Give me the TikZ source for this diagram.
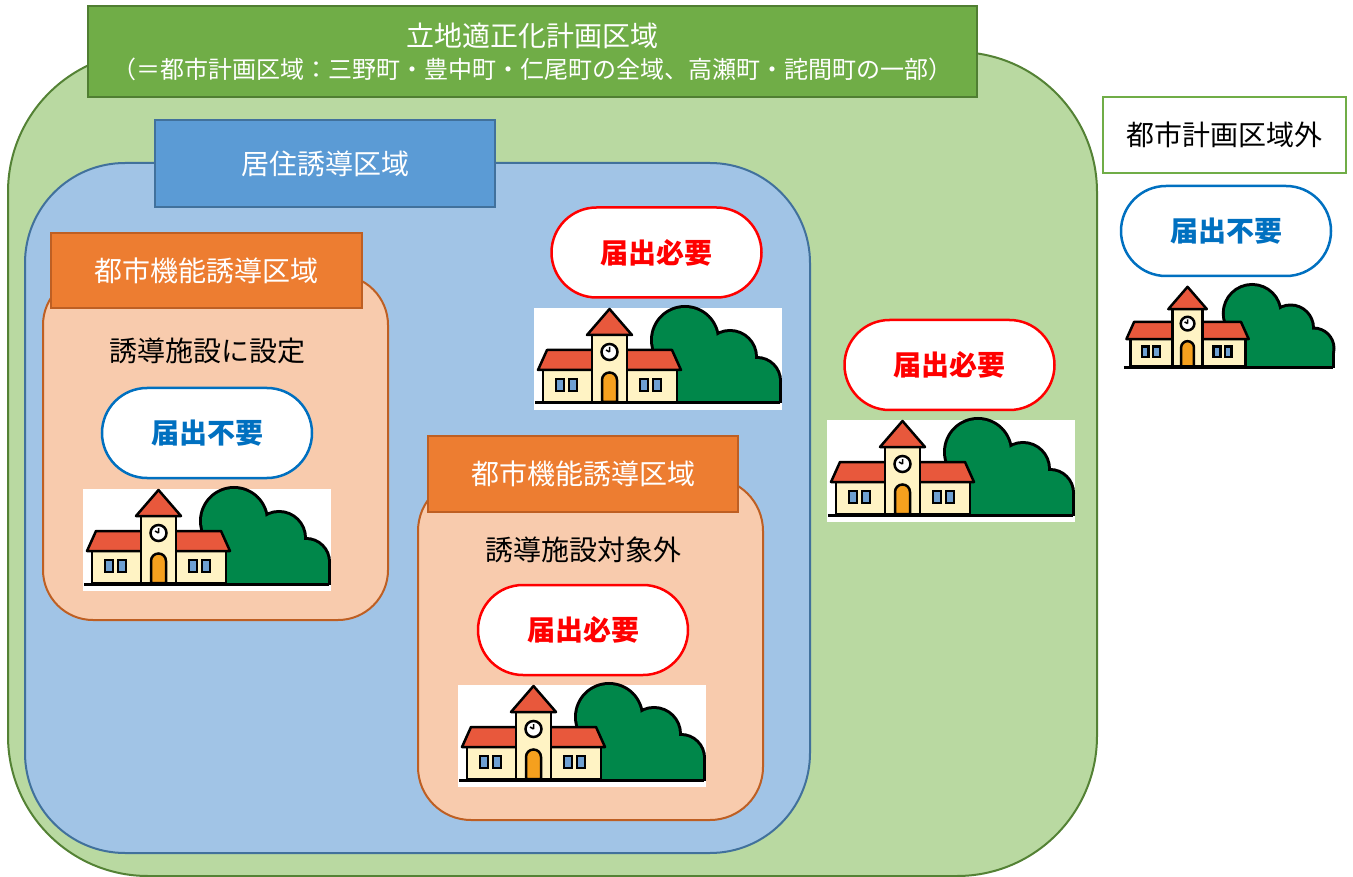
\documentclass[tikz,border=0pt]{standalone}
\usepackage{fontspec}
\setmainfont{Noto Sans CJK JP}
\definecolor{cityfill}{RGB}{185,217,161}
\definecolor{cityline}{RGB}{84,130,53}
\definecolor{titlefill}{RGB}{112,173,71}
\definecolor{titleline}{RGB}{80,126,50}
\definecolor{residfill}{RGB}{161,196,230}
\definecolor{residline}{RGB}{65,113,156}
\definecolor{residlbl}{RGB}{91,155,213}
\definecolor{cffill}{RGB}{248,203,173}
\definecolor{cfline}{RGB}{190,95,35}
\definecolor{cflbl}{RGB}{237,125,49}
\definecolor{okblue}{RGB}{0,112,192}
\definecolor{needred}{RGB}{255,0,0}
\definecolor{roofred}{RGB}{232,88,60}
\definecolor{wallcream}{RGB}{255,243,196}
\definecolor{treegreen}{RGB}{0,135,74}
\definecolor{doororange}{RGB}{245,160,30}
\definecolor{winblue}{RGB}{110,160,210}
\tikzset{
  region/.style={draw, line width=2pt, minimum width=#1},
  labelbox/.style={draw, line width=2pt, text=white, font=\fontsize{28}{32}\selectfont},
  pill/.style={draw=#1, text=#1, fill=white, line width=2.5pt, rounded corners=45pt,
    minimum width=210pt, minimum height=90pt, font=\fontsize{28}{32}\selectfont\bfseries},
  note/.style={font=\fontsize{28}{32}\selectfont, text=black},
  school/.pic={
    % white backdrop
    \fill[white] (0,0) rectangle (248,102);
    % tree: outline strokes first, then fills hide the inner lines
    \begin{scope}
      \clip (0,-5) rectangle (250,95);
      \foreach \tc/\tr in {{151,32}/32,{196,49}/25,{223,73}/22}
        \draw[line width=6pt] (\tc) circle[radius=\tr];
      \draw[line width=6pt] (119,50) rectangle (215,95) (200,73) rectangle (245,95);
      \foreach \tc/\tr in {{151,32}/32,{196,49}/25,{223,73}/22}
        \fill[treegreen] (\tc) circle[radius=\tr];
      \fill[treegreen] (119,50) rectangle (215,95);
      \fill[treegreen] (200,73) rectangle (245,95);
    \end{scope}
    % building
    \filldraw[fill=wallcream, line width=2.5pt, line join=round] (9,60) rectangle (143,94);
    \filldraw[fill=roofred, line width=2.5pt, line join=round] (4,62) -- (13,42) -- (138,42) -- (147,62) -- cycle;
    \filldraw[fill=wallcream, line width=2.5pt, line join=round] (58,27) rectangle (93,94);
    \filldraw[fill=roofred, line width=2.5pt, line join=round] (75.5,1) -- (53,27) -- (98,27) -- cycle;
    \filldraw[fill=white, line width=2.5pt] (75.5,44) circle[radius=8];
    \draw[line width=1.5pt] (75.5,44) -- (75.5,39) (75.5,44) -- (72,42);
    \filldraw[fill=doororange, line width=2.5pt] (68,94) -- (68,72)
      arc[start angle=180, end angle=360, radius=7.5] -- (83,94) -- cycle;
    \foreach \wx in {22,35,106,119}
      \filldraw[fill=winblue, line width=2.5pt] (\wx,71) rectangle ++(8,12);
    % ground
    \draw[line width=3pt] (1,95) -- (246,95);
  }
}
\begin{document}
\begin{tikzpicture}[x=1pt,y=-1pt]
\useasboundingbox (0,0) rectangle (1353,877);

% planning area
\node[region=1089pt, minimum height=824pt, rounded corners=140pt, draw=cityline, fill=cityfill]
  (city) at (552.5,464) {};
\node[labelbox, draw=titleline, fill=titlefill, minimum width=889pt, minimum height=91pt,
  align=center, inner sep=0pt] (title) at (532.5,51.5)
  {\fontsize{28}{33}\selectfont 立地適正化計画区域\\[0pt]
   \fontsize{24}{33}\selectfont （＝都市計画区域：三野町・豊中町・仁尾町の全域、高瀬町・詫間町の一部）};

% residential guidance area
\node[region=785pt, minimum height=690pt, rounded corners=100pt, draw=residline, fill=residfill]
  (resid) at (417.5,508) {};
\node[labelbox, draw=residline, fill=residlbl, minimum width=340pt, minimum height=87pt]
  (residtag) at (325,163.5) {居住誘導区域};

% urban function area with designated facilities
\node[region=345pt, minimum height=345pt, rounded corners=50pt, draw=cfline, fill=cffill]
  (cfa) at (215.5,447.5) {};
\node[labelbox, draw=cfline, fill=cflbl, minimum width=311pt, minimum height=75pt]
  (cfatag) at (206.5,270.5) {都市機能誘導区域};
\node[note] (cfanote) at (207,351) {誘導施設に設定};
\node[pill=okblue] (cfapill) at (207,433) {届出不要};
\pic (cfaicon) at (83,489) {school};

% residential area, outside urban function areas
\node[pill=needred] (residpill) at (656.5,252.5) {届出必要};
\pic (residicon) at (534,308) {school};

% urban function area, non-designated facilities
\node[region=345pt, minimum height=342pt, rounded corners=53pt, draw=cfline, fill=cffill]
  (cfb) at (590.5,649) {};
\node[labelbox, draw=cfline, fill=cflbl, minimum width=310pt, minimum height=76pt]
  (cfbtag) at (583,474) {都市機能誘導区域};
\node[note] (cfbnote) at (583,550) {誘導施設対象外};
\node[pill=needred] (cfbpill) at (583,630) {届出必要};
\pic (cfbicon) at (458,685) {school};

% rest of the planning area
\node[pill=needred] (citypill) at (949.5,365) {届出必要};
\pic (cityicon) at (827,420) {school};

% outside the planning area
\node[draw=titlefill, line width=2pt, fill=white, minimum width=243pt, minimum height=76pt,
  note] (outside) at (1224.5,135) {都市計画区域外};
\node[pill=okblue] (outpill) at (1226,231) {届出不要};
\pic[scale=0.855] (outicon) at (1123,286) {school};
\end{tikzpicture}
\end{document}
